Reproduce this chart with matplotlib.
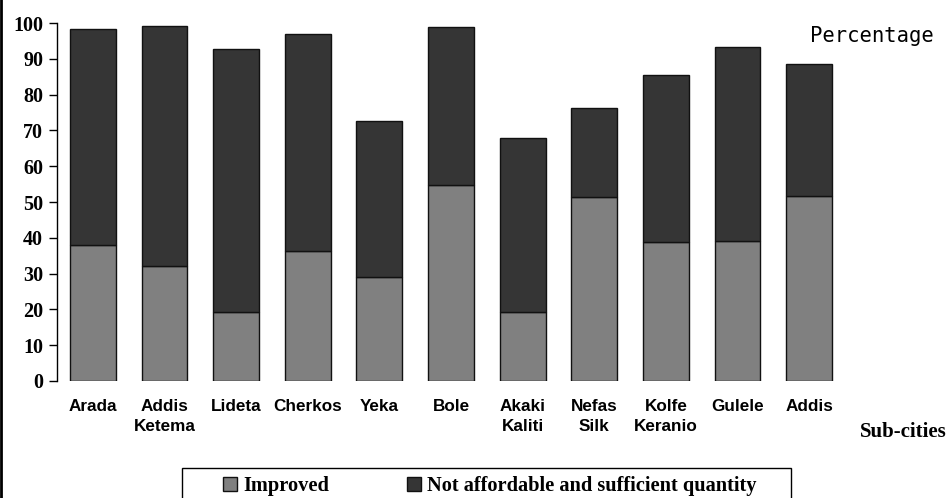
import matplotlib
matplotlib.use("Agg")
import matplotlib.pyplot as plt
import numpy as np
from matplotlib.patches import Rectangle
from matplotlib.lines import Line2D

# Sub-city names and water-access shares (%)
sub_cities = ["Arada", "Addis\nKetema", "Lideta", "Cherkos", "Yeka", "Bole",
              "Akaki\nKaliti", "Nefas\nSilk", "Kolfe\nKeranio", "Gulele", "Addis"]
improved = [38.1, 32.0, 19.4, 36.2, 29.0, 54.8, 19.4, 51.5, 38.7, 39.1, 51.8]
totals = [98.2, 99.3, 92.6, 96.8, 72.7, 98.9, 68.0, 76.2, 85.5, 93.3, 88.5]
not_affordable = [t - i for t, i in zip(totals, improved)]
y_ticks = [0, 10, 20, 30, 40, 50, 60, 70, 80, 90, 100]

W, H = 951, 498
fig = plt.figure(figsize=(W / 100, H / 100), dpi=100)
ax = fig.add_axes([57 / W, 1 - 381 / H, (845 - 57) / W, (381 - 23) / H])

x = np.arange(len(sub_cities))
b1 = ax.bar(x, improved, width=0.64, color="#808080", edgecolor="#111111",
            linewidth=1.0, label="Improved")
b2 = ax.bar(x, not_affordable, bottom=improved, width=0.64, color="#353535",
            edgecolor="#111111", linewidth=1.0,
            label="Not affordable and sufficient quantity")

ax.set_xlim(-0.5, len(sub_cities) - 0.5)
ax.set_ylim(0, 100)
ax.set_yticks(y_ticks)
ax.set_yticklabels([str(v) for v in y_ticks], family="Liberation Serif",
                   fontweight="bold", fontsize=14.5)
ax.set_xticks(x)
ax.set_xticklabels(sub_cities, family="Liberation Sans", fontweight="bold",
                   fontsize=12.3, linespacing=1.4, va="top")
ax.tick_params(axis="x", length=0, pad=13)
ax.tick_params(axis="y", length=6, width=1.0, direction="out", pad=4)
for side in ("top", "right", "bottom"):
    ax.spines[side].set_visible(False)
ax.spines["left"].set_linewidth(1.0)

fig.text(810 / W, 1 - 36 / H, "Percentage", family="DejaVu Sans Mono",
         fontsize=14.8, va="center", ha="left")
fig.text(860 / W, 1 - 432 / H, "Sub-cities", family="Liberation Serif",
         fontweight="bold", fontsize=15, va="center", ha="left")

# Legend entries without frame; frame drawn separately so it runs off the page
leg = fig.legend(handles=[b1, b2], loc="upper left",
                 bbox_to_anchor=(223 / W, 1 - 476 / H), ncol=2,
                 frameon=False, borderpad=0, borderaxespad=0,
                 handlelength=0.7, handleheight=0.7, handletextpad=0.3,
                 columnspacing=3.8,
                 prop={"family": "Liberation Serif", "weight": "bold",
                       "size": 14.7})

fig.patches.append(Rectangle((182 / W, -0.05), (791 - 182) / W,
                             (1 - 468 / H) + 0.05, transform=fig.transFigure,
                             fill=False, edgecolor="black", linewidth=1.0))
fig.lines.append(Line2D([1 / W, 1 / W], [0, 1], transform=fig.transFigure,
                        color="black", linewidth=2.0))

fig.savefig("out.png", dpi=100)
